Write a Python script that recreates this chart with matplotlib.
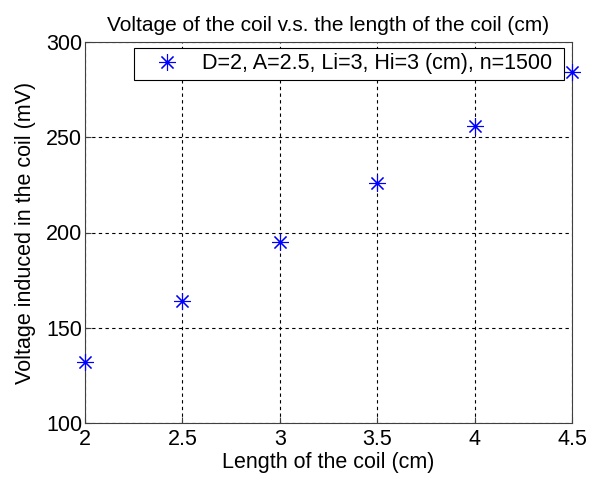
import numpy as np
import matplotlib.pyplot as plt

plt.rcParams['font.family'] = ['Liberation Sans', 'DejaVu Sans']

# coil length (cm) vs induced voltage (mV)
length_cm = [2, 2.5, 3, 3.5, 4, 4.5]
voltage_mv = [132, 164, 195, 226, 256, 284]
legend_label = 'D=2, A=2.5, Li=3, Hi=3 (cm), n=1500'

fs = 15.5

fig = plt.figure(figsize=(5.97, 4.78), dpi=100)
ax = fig.add_axes([85/597, 55/478, 487/597, 381/478])

ax.plot(length_cm, voltage_mv, ls='none', marker=(8, 2, 0), ms=12, mew=0.8,
        color='#0000ff', label=legend_label + ' ', clip_on=False, zorder=5)

ax.set_xlim(2, 4.5)
ax.set_ylim(100, 300)
ax.set_xticks([2, 2.5, 3, 3.5, 4, 4.5])
ax.set_xticklabels(['2', '2.5', '3', '3.5', '4', '4.5'])
ax.set_yticks([100, 150, 200, 250, 300])

ax.grid(True, color='black', ls=(0, (3, 3)), lw=0.8)
ax.tick_params(direction='in', length=4, labelsize=fs, color='#404040')
ax.tick_params(axis='x', pad=4)
ax.tick_params(axis='y', pad=2)
for sp in ax.spines.values():
    sp.set_color('#404040')

ax.set_title('Voltage of the coil v.s. the length of the coil (cm)', fontsize=15, pad=8)
ax.set_xlabel('Length of the coil (cm)', fontsize=fs, labelpad=2)
ax.set_ylabel('Voltage induced in the coil (mV)', fontsize=fs, labelpad=7)

leg = ax.legend(loc='upper right', bbox_to_anchor=(564/597, 1 - 48/478),
                bbox_transform=fig.transFigure, borderaxespad=0,
                fontsize=fs, fancybox=False, framealpha=1, edgecolor='black',
                borderpad=0.25, handlelength=2.57, handletextpad=0.35)
leg.get_frame().set_linewidth(0.8)

fig.savefig('out.png', dpi=100)
